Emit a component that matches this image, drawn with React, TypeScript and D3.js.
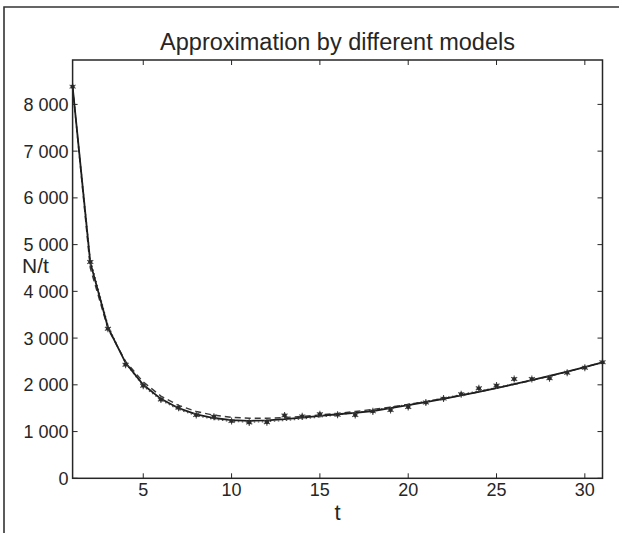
import { useEffect, useRef } from "react";
import * as d3 from "d3";

// observed N/t at t = 1..31
const tValues = d3.range(1, 32);
const observed = [
  8380, 4630, 3200, 2430, 1980, 1685, 1510, 1354, 1318, 1226, 1195, 1200, 1345, 1325, 1372, 1360,
  1354, 1432, 1461, 1525, 1620, 1705, 1800, 1925, 1985, 2124, 2124, 2139, 2259, 2366, 2481,
];
// model curves
const modelSolid = [
  8380, 4620, 3230, 2470, 2000, 1700, 1500, 1370, 1290, 1245, 1230, 1240, 1265, 1300, 1335, 1370,
  1400, 1440, 1500, 1565, 1630, 1700, 1775, 1850, 1930, 2015, 2100, 2190, 2285, 2380, 2480,
];
const modelDashed = [
  8380, 4500, 3200, 2500, 2060, 1760, 1560, 1430, 1350, 1305, 1285, 1285, 1300, 1325, 1355, 1390,
  1430, 1475, 1525, 1580, 1640, 1705, 1775, 1850, 1930, 2010, 2095, 2185, 2280, 2380, 2485,
];
const modelDotted = [
  8380, 4700, 3280, 2460, 1970, 1670, 1470, 1340, 1260, 1215, 1200, 1210, 1235, 1270, 1310, 1355,
  1405, 1460, 1520, 1585, 1650, 1720, 1795, 1870, 1945, 2025, 2105, 2190, 2280, 2375, 2475,
];
const xTicks = [5, 10, 15, 20, 25, 30];
const yTicks = [0, 1000, 2000, 3000, 4000, 5000, 6000, 7000, 8000];

export default function App() {
  const ref = useRef<SVGSVGElement>(null);

  useEffect(() => {
    const width = 619;
    const height = 533;
    const left = 72.6;
    const right = 602.5;
    const top = 60;
    const bottom = 478.3;
    const ink = "#262626";
    const font = "'Liberation Sans', Arial, Helvetica, sans-serif";

    const svg = d3.select(ref.current);
    svg.selectAll("*").remove();

    const x = d3.scaleLinear().domain([1, 31]).range([left, right]);
    const y = d3.scaleLinear().domain([0, 8950]).range([bottom, top]);

    svg.append("rect").attr("width", width).attr("height", height).attr("fill", "#fff");

    // outer frame
    svg
      .append("path")
      .attr("d", `M4,${height + 5}V7H${width + 5}`)
      .attr("fill", "none")
      .attr("stroke", "#333")
      .attr("stroke-width", 1.6);

    // title
    svg
      .append("text")
      .attr("x", (left + right) / 2)
      .attr("y", 50)
      .attr("text-anchor", "middle")
      .style("font-family", font)
      .style("font-size", "23.5px")
      .attr("fill", ink)
      .text("Approximation by different models");

    // ticks inside the box
    const tickLen = 5;
    const g = svg.append("g").attr("stroke", ink).attr("stroke-width", 1);
    xTicks.forEach((t) => {
      g.append("line").attr("x1", x(t)).attr("x2", x(t)).attr("y1", bottom).attr("y2", bottom - tickLen);
      g.append("line").attr("x1", x(t)).attr("x2", x(t)).attr("y1", top).attr("y2", top + tickLen);
    });
    yTicks.forEach((v) => {
      g.append("line").attr("x1", left).attr("x2", left + tickLen).attr("y1", y(v)).attr("y2", y(v));
      g.append("line").attr("x1", right).attr("x2", right - tickLen).attr("y1", y(v)).attr("y2", y(v));
    });

    const fmt = (v: number) => d3.format(",")(v).replace(/,/g, " ");

    svg
      .append("g")
      .selectAll("text")
      .data(xTicks)
      .enter()
      .append("text")
      .attr("x", (d) => x(d))
      .attr("y", 496)
      .attr("text-anchor", "middle")
      .style("font-family", font)
      .style("font-size", "18px")
      .attr("fill", ink)
      .text((d) => d);

    svg
      .append("g")
      .selectAll("text")
      .data(yTicks)
      .enter()
      .append("text")
      .attr("x", left - 4)
      .attr("y", (d) => y(d) + 6.5)
      .attr("text-anchor", "end")
      .style("font-family", font)
      .style("font-size", "18px")
      .attr("fill", ink)
      .text((d) => fmt(d));

    // axis labels
    svg
      .append("text")
      .attr("x", 22)
      .attr("y", 273)
      .style("font-family", font)
      .style("font-size", "21px")
      .attr("fill", ink)
      .text("N/t");
    svg
      .append("text")
      .attr("x", x(16))
      .attr("y", 520)
      .attr("text-anchor", "middle")
      .style("font-family", font)
      .style("font-size", "22px")
      .attr("fill", ink)
      .text("t");

    // curves
    const line = d3
      .line<number>()
      .x((_, i) => x(tValues[i]))
      .y((d) => y(d));

    svg
      .append("path")
      .attr("d", line(modelDotted))
      .attr("fill", "none")
      .attr("stroke", "#555")
      .attr("stroke-width", 1.1)
      .attr("stroke-dasharray", "1.5,2.5");
    svg
      .append("path")
      .attr("d", line(modelDashed))
      .attr("fill", "none")
      .attr("stroke", "#3a3a3a")
      .attr("stroke-width", 1.4)
      .attr("stroke-dasharray", "6,4");
    svg
      .append("path")
      .attr("d", line(modelSolid))
      .attr("fill", "none")
      .attr("stroke", "#1e1e1e")
      .attr("stroke-width", 1.8);

    // observed points
    const star = d3.symbol().type(d3.symbolAsterisk).size(34);
    const dot = d3.symbol().type(d3.symbolCircle).size(14);
    const pts = svg
      .append("g")
      .selectAll("g")
      .data(observed)
      .enter()
      .append("g")
      .attr("transform", (d, i) => `translate(${x(tValues[i])},${y(d)})`);
    pts.append("path").attr("d", star()).attr("fill", "none").attr("stroke", "#4a4a4a").attr("stroke-width", 1.1);
    pts.append("path").attr("d", dot()).attr("fill", "#2a2a2a");

    // plot box
    svg
      .append("rect")
      .attr("x", left)
      .attr("y", top)
      .attr("width", right - left)
      .attr("height", bottom - top)
      .attr("fill", "none")
      .attr("stroke", ink)
      .attr("stroke-width", 1.5);
  }, []);

  return (
    <svg
      ref={ref}
      width="619"
      height="533"
      style={{ position: "absolute", left: 0, top: 0 }}
    />
  );
}
